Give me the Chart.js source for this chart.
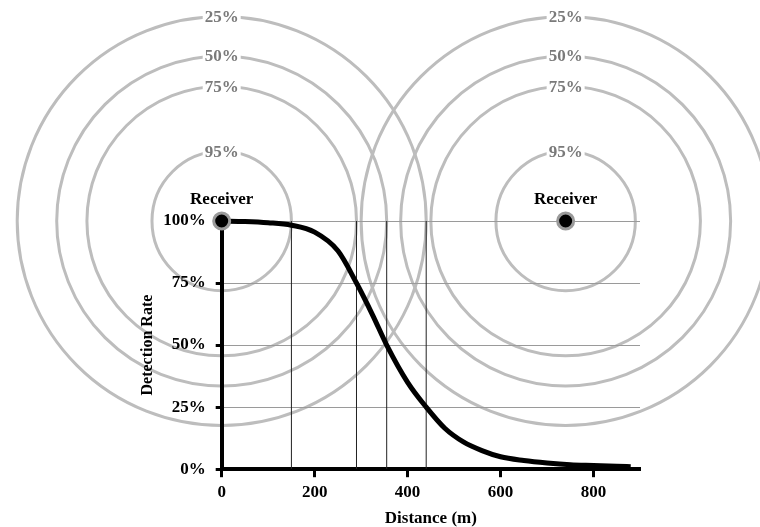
<!DOCTYPE html>
<html lang="en">
<head>
    <meta charset="UTF-8">
    <title>Detection Rate vs Distance</title>
    <style>
        body {
            margin: 0;
            padding: 0;
            background: #fff;
        }

        .chart-box {
            width: 760px;
            height: 527px;
        }
    </style>
    <script src="https://cdn.jsdelivr.net/npm/chart.js"></script>
</head>
<body>
    <div class="chart-box">
        <canvas id="rangeChart"></canvas>
    </div>
    <script>
        // data
        const xTicks = [0, 200, 400, 600, 800];
        const yTicks = [0, 25, 50, 75, 100];
        const distance = [0, 50, 100, 150, 200, 250, 290, 325, 355, 400, 440, 480, 520, 560, 600, 650, 700, 750, 800, 850, 880];
        const detection = [100, 99.8, 99.3, 98.3, 95.5, 88, 75, 62, 50, 35, 25, 16.5, 11, 7.5, 5, 3.5, 2.5, 1.8, 1.5, 1.2, 1];
        const ringDist = [440, 355, 290, 150];
        const ringLabels = ['25%', '50%', '75%', '95%'];
        const receiverX = [0, 740];
        const receiverY = [100, 100];
        const receiverLabel = 'Receiver';

        const serif = '"Liberation Serif", "Times New Roman", serif';

        // range rings around each receiver, radius taken from the x scale
        const ringsPlugin = {
            id: 'rings',
            beforeDraw(chart) {
                const { ctx, scales: { x, y } } = chart;
                const x0 = x.getPixelForValue(0);
                ctx.save();
                ctx.strokeStyle = '#bdbdbd';
                ctx.lineWidth = 3;
                receiverX.forEach((rx, i) => {
                    const cx = x.getPixelForValue(rx);
                    const cy = y.getPixelForValue(receiverY[i]);
                    ringDist.forEach(d => {
                        const r = x.getPixelForValue(d) - x0;
                        ctx.beginPath();
                        ctx.arc(cx, cy, r, 0, Math.PI * 2);
                        ctx.stroke();
                    });
                });
                ctx.font = 'bold 17px ' + serif;
                ctx.textAlign = 'center';
                ctx.textBaseline = 'middle';
                receiverX.forEach((rx, i) => {
                    const cx = x.getPixelForValue(rx);
                    const cy = y.getPixelForValue(receiverY[i]);
                    ringDist.forEach((d, j) => {
                        const r = x.getPixelForValue(d) - x0;
                        const w = ctx.measureText(ringLabels[j]).width + 4;
                        ctx.fillStyle = '#fff';
                        ctx.fillRect(cx - w / 2, cy - r - 7, w, 14);
                        ctx.fillStyle = '#7a7a7a';
                        ctx.fillText(ringLabels[j], cx, cy - r + 1);
                    });
                });
                ctx.restore();
            },
            afterDatasetsDraw(chart) {
                const { ctx, scales: { x, y } } = chart;
                ctx.save();
                ctx.font = 'bold 17px ' + serif;
                ctx.fillStyle = '#000';
                ctx.textAlign = 'center';
                ctx.textBaseline = 'middle';
                receiverX.forEach((rx, i) => {
                    ctx.fillText(receiverLabel, x.getPixelForValue(rx), y.getPixelForValue(receiverY[i]) - 21);
                });
                ctx.restore();
            }
        };

        const dropLines = ringDist.map(d => ({
            data: [{ x: d, y: 0 }, { x: d, y: 100 }],
            showLine: true,
            borderColor: '#222',
            borderWidth: 1,
            pointRadius: 0,
            order: 3
        }));

        const ctx = document.getElementById('rangeChart').getContext('2d');
        new Chart(ctx, {
            type: 'scatter',
            data: {
                datasets: [{
                    data: distance.map((d, i) => ({ x: d, y: detection[i] })),
                    showLine: true,
                    borderColor: '#000',
                    borderWidth: 5,
                    pointRadius: 0,
                    cubicInterpolationMode: 'monotone',
                    clip: false,
                    order: 1
                }, {
                    data: receiverX.map((d, i) => ({ x: d, y: receiverY[i] })),
                    pointRadius: 8,
                    backgroundColor: '#000',
                    borderColor: '#9a9a9a',
                    borderWidth: 3,
                    clip: false,
                    order: 0
                }, ...dropLines]
            },
            options: {
                responsive: true,
                maintainAspectRatio: false,
                animation: false,
                layout: {
                    padding: { top: 221, right: 120, left: 138, bottom: -2 }
                },
                plugins: {
                    legend: { display: false },
                    tooltip: { enabled: false }
                },
                scales: {
                    x: {
                        type: 'linear',
                        min: 0,
                        max: 900,
                        afterBuildTicks: s => { s.ticks = xTicks.map(v => ({ value: v })); },
                        border: { color: '#000', width: 4 },
                        grid: { drawOnChartArea: false, tickLength: 8, tickColor: '#000', tickWidth: 3 },
                        ticks: { color: '#000', font: { family: serif, size: 17, weight: 'bold' }, padding: 5 },
                        title: { display: true, text: 'Distance (m)', color: '#000', font: { family: serif, size: 17, weight: 'bold' }, padding: { top: 1, bottom: 0 } }
                    },
                    y: {
                        min: 0,
                        max: 100,
                        afterBuildTicks: s => { s.ticks = yTicks.map(v => ({ value: v })); },
                        border: { color: '#000', width: 4 },
                        grid: {
                            color: c => c.tick && c.tick.value === 0 ? 'rgba(0,0,0,0)' : '#9a9a9a',
                            lineWidth: 1,
                            tickLength: 6,
                            tickColor: '#000',
                            tickWidth: 3
                        },
                        ticks: { color: '#000', font: { family: serif, size: 17, weight: 'bold' }, padding: 10, callback: v => v + '%' },
                        title: { display: true, text: 'Detection Rate', color: '#000', font: { family: serif, size: 16, weight: 'bold' }, padding: { top: 0, bottom: -4 } }
                    }
                }
            },
            plugins: [ringsPlugin]
        });
    </script>
</body>
</html>
